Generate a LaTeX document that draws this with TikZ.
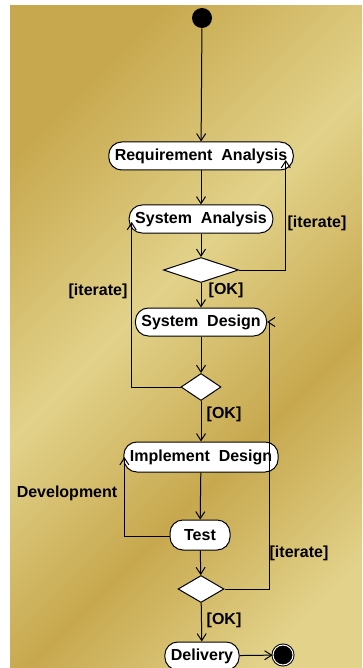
\documentclass[tikz,border=0pt]{standalone}
\usepackage{fontspec}
\setmainfont{Liberation Sans}
\usepackage{tikz}
\usetikzlibrary{arrows.meta,shapes.geometric}
\usepackage{xcolor}

\definecolor{golddark}{RGB}{199,168,78}
\definecolor{goldlight}{RGB}{226,210,138}
\pgfdeclareverticalshading{goldbg}{100bp}{color(0bp)=(goldlight); color(22bp)=(goldlight); color(38bp)=(golddark); color(55bp)=(goldlight); color(75bp)=(golddark); color(100bp)=(golddark)}

\begin{document}
\begin{tikzpicture}[x=1pt, y=-1pt, line width=1pt,
    font=\fontsize{16}{18}\selectfont\bfseries,
    activity/.style={draw,fill=white,rounded corners=13pt,minimum height=28pt,minimum width=60pt,inner xsep=6pt,inner ysep=0pt},
    decision/.style={draw,fill=white,diamond,inner sep=0pt},
    guard/.style={inner sep=0pt}
  ]
  \useasboundingbox (0,0) rectangle (362,668);
  \shade[shading=goldbg, shading angle=45] (10,6) rectangle (362,668);

  % pseudo states
  \node[circle,fill=black,minimum size=20pt,inner sep=0pt] (start) at (202,18) {};
  \node[circle,draw,fill=black,minimum size=20pt,inner sep=0pt,double=white,double distance=1pt] (stop) at (283,655) {};

  % activities
  \node[activity] (reqana) at (201,156) {Requirement\ \ Analysis};
  \node[activity] (sysana) at (201,219) {System\ \ Analysis};
  \node[decision,minimum width=75pt,minimum height=25pt] (dec1) at (201,270) {};
  \node[activity] (sysdes) at (201,322) {System\ \ Design};
  \node[decision,minimum width=40pt,minimum height=27pt] (dec2) at (201,387) {};
  \node[activity,minimum height=30pt] (impdes) at (201,457) {Implement\ \ Design};
  \node[activity,minimum height=30pt] (test) at (200,535) {Test};
  \node[decision,minimum width=46pt,minimum height=27pt] (dec3) at (201,589) {};
  \node[activity] (deliv) at (202,656) {Delivery};

  % main flow
  \path[->,>={Straight Barb[length=7pt,width=9pt]}]
  (start) edge (reqana)
  (reqana) edge (sysana)
  (sysana) edge (dec1)
  (dec1) edge (sysdes)
  (sysdes) edge (dec2)
  (dec2) edge (impdes)
  (impdes) edge (test)
  (test) edge (dec3)
  (dec3) edge (deliv)
  (deliv) edge (stop)
  ;

  % loops back
  \draw[->,>={Straight Barb[length=7pt,width=9pt]}]
    (dec1.east) -| ([xshift=-8pt,yshift=-4pt]reqana.east);
  \draw[->,>={Straight Barb[length=7pt,width=9pt]}]
    (dec2.west) -| ([xshift=3pt,yshift=-3pt]sysana.west);
  \draw[->,>={Straight Barb[length=7pt,width=9pt]}]
    (dec3.east) -| ([xshift=2pt]sysdes.east) -- (sysdes.east);
  \draw[->,>={Straight Barb[length=7pt,width=9pt]}]
    ([yshift=-1pt]test.west) -| ([xshift=1pt]impdes.west);

  % guards
  \node[guard] (it1) at (317,223) {[iterate]};
  \node[guard] (it2) at (98,291) {[iterate]};
  \node[guard] (it3) at (299,553) {[iterate]};
  \node[guard] (dev) at (67,493) {Development};
  \node[guard] (ok1) at (226,290) {[OK]};
  \node[guard] (ok2) at (224,414) {[OK]};
  \node[guard] (ok3) at (224,620) {[OK]};
\end{tikzpicture}
\end{document}
